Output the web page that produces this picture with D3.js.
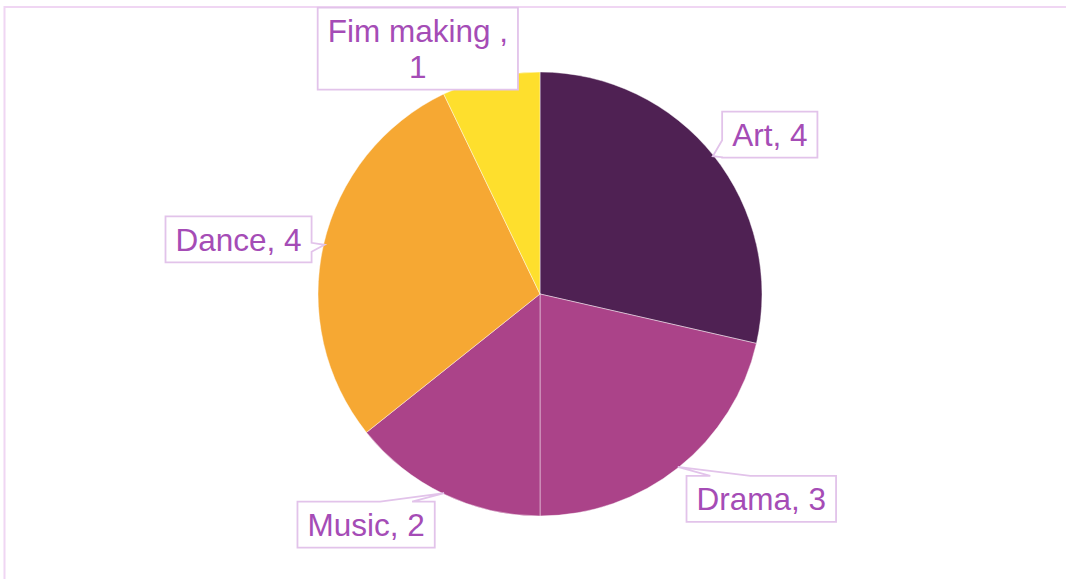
<!DOCTYPE html>
<html>
<head>
<meta charset="utf-8">
<script src="https://cdn.jsdelivr.net/npm/d3@7"></script>
<style>
  html, body { margin: 0; padding: 0; background: #fff; }
  svg { display: block; }
</style>
</head>
<body>
<svg id="chart" width="1066" height="579"></svg>
<script>
// Activity counts
const categories = ["Art", "Drama", "Music", "Dance", "Fim making "];
const values = [4, 3, 2, 4, 1];
const colors = ["#4f2153", "#ab4389", "#ab4389", "#f6a833", "#fedf2d"];

// Callout layout: box centre offset from the pointer tip, the side the pointer
// leaves from, and its base (offsets along that side, relative to the box centre)
const calloutLayout = [
  { dx: 57, dy: -21.5, side: "left", base: [5.5, 22.5] },
  { dx: 83.5, dy: 32, side: "top", base: [-51, -11] },
  { dx: -78, dy: 31.5, side: "top", base: [14, 46] },
  { dx: -86, dy: -5.5, side: "right", base: [3.5, 12.5] },
  { dx: -73, dy: -30, side: "none", base: [0, 0] }
];

const W = 1066, H = 579;
const cx = 540, cy = 294, R = 222;
const fontSize = 31.5, lineH = 36, padX = 10, padY = 5;
const textColor = "#a54cb6", boxStroke = "#e2c3ea";

const svg = d3.select("#chart");

// outer frame
svg.append("rect")
  .attr("x", 4.5).attr("y", 7)
  .attr("width", W + 10).attr("height", H + 10)
  .attr("fill", "none")
  .attr("stroke", "#f0d6f3")
  .attr("stroke-width", 2);

const data = categories.map((c, i) => ({ cat: c, value: values[i], color: colors[i], i }));

const pie = d3.pie().sort(null).value(d => d.value);
const arcs = pie(data);
const arc = d3.arc().innerRadius(0).outerRadius(R);

const g = svg.append("g").attr("transform", `translate(${cx},${cy})`);
g.selectAll("path.slice")
  .data(arcs)
  .join("path")
  .attr("class", "slice")
  .attr("d", arc)
  .attr("fill", d => d.data.color)
  .attr("stroke", "rgba(255,255,255,0.55)")
  .attr("stroke-width", 0.8);

// callout labels
const labelLayer = svg.append("g");

arcs.forEach((a, k) => {
  const lay = calloutLayout[k];
  const mid = (a.startAngle + a.endAngle) / 2;
  const tx = cx + Math.sin(mid) * (R - 1);
  const ty = cy - Math.cos(mid) * (R - 1);

  const full = `${a.data.cat}, ${a.data.value}`;
  const grp = labelLayer.append("g");
  const txt = grp.append("text")
    .attr("font-family", "Liberation Sans, Arial, sans-serif")
    .attr("font-size", fontSize)
    .attr("fill", textColor)
    .attr("text-anchor", "middle");

  // measure, wrap before the value if too wide
  txt.text(full);
  let lines = [full];
  if (txt.node().getComputedTextLength() > 190) {
    lines = [`${a.data.cat},`, `${a.data.value}`];
  }
  txt.text(null);
  let maxW = 0;
  lines.forEach(l => {
    const t = txt.append("tspan").text(l);
    maxW = Math.max(maxW, t.node().getComputedTextLength());
  });

  const bw = maxW + padX * 2;
  const bh = lines.length * lineH + padY * 2;
  const bcx = tx + lay.dx, bcy = ty + lay.dy;
  const x0 = bcx - bw / 2, x1 = bcx + bw / 2, y0 = bcy - bh / 2, y1 = bcy + bh / 2;

  // box outline with a pointer on the chosen side
  const [b0, b1] = lay.base;
  let pts;
  if (lay.side === "left") {
    pts = [[x0, y0], [x1, y0], [x1, y1], [x0, y1], [x0, bcy + b1], [tx, ty], [x0, bcy + b0]];
  } else if (lay.side === "right") {
    pts = [[x0, y0], [x1, y0], [x1, bcy + b0], [tx, ty], [x1, bcy + b1], [x1, y1], [x0, y1]];
  } else if (lay.side === "top") {
    pts = [[x0, y0], [bcx + b0, y0], [tx, ty], [bcx + b1, y0], [x1, y0], [x1, y1], [x0, y1]];
  } else if (lay.side === "bottom") {
    pts = [[x0, y0], [x1, y0], [x1, y1], [bcx + b1, y1], [tx, ty], [bcx + b0, y1], [x0, y1]];
  } else {
    pts = [[x0, y0], [x1, y0], [x1, y1], [x0, y1]];
  }
  grp.insert("path", "text")
    .attr("d", d3.line()(pts) + "Z")
    .attr("fill", "#fff")
    .attr("stroke", boxStroke)
    .attr("stroke-width", 1.8)
    .attr("stroke-linejoin", "miter");

  const firstBase = bcy + fontSize * 0.37 - (lines.length - 1) * lineH / 2;
  txt.selectAll("tspan")
    .attr("x", bcx)
    .attr("y", (d, j) => firstBase + j * lineH);
});
</script>
</body>
</html>
